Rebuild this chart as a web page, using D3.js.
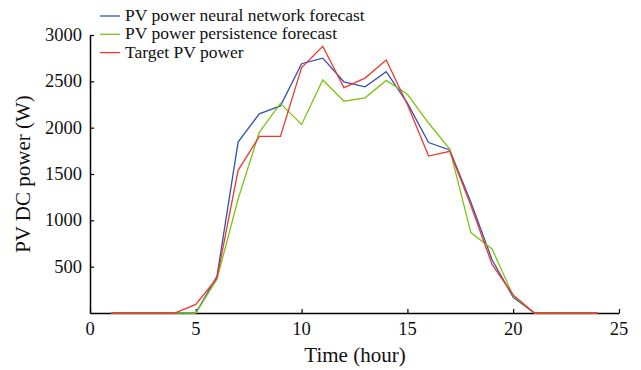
<!DOCTYPE html>
<html>
<head>
<meta charset="utf-8">
<style>
  body { margin: 0; background: #fff; }
  text { font-family: "Liberation Serif", "Times New Roman", serif; fill: #111; }
</style>
</head>
<body>
<svg id="chart" width="641" height="370"></svg>
<script src="https://cdn.jsdelivr.net/npm/d3@7/dist/d3.min.js"></script>
<script>
// hours of the day
const hours = [1, 2, 3, 4, 5, 6, 7, 8, 9, 10, 11, 12, 13, 14, 15, 16, 17, 18, 19, 20, 21, 22, 23, 24];

const neuralForecast = [0, 0, 0, 0, 0, 395, 1845, 2150, 2235, 2690, 2750, 2495, 2440, 2605, 2265, 1840, 1760, 1195, 575, 170, 0, 0, 0, 0];
const persistenceForecast = [0, 0, 0, 0, 0, 365, 1230, 1950, 2262, 2035, 2515, 2285, 2322, 2510, 2360, 2050, 1770, 868, 692, 185, 0, 0, 0, 0];
const targetPower = [0, 0, 0, 0, 92, 375, 1540, 1905, 1905, 2648, 2878, 2432, 2535, 2730, 2250, 1693, 1745, 1160, 525, 195, 0, 0, 0, 0];

const xTicks = [0, 5, 10, 15, 20, 25];
const yTicks = [500, 1000, 1500, 2000, 2500, 3000];

const series = [
  { name: "PV power neural network forecast", values: neuralForecast, color: "#3451b2" },
  { name: "PV power persistence forecast", values: persistenceForecast, color: "#7cc414" },
  { name: "Target PV power", values: targetPower, color: "#ea3a2e" }
];

const svg = d3.select("#chart");
const plotLeft = 90, plotRight = 619, plotTop = 35, plotBottom = 313;

const x = d3.scaleLinear().domain([0, 25]).range([plotLeft, plotRight]);
const y = d3.scaleLinear().domain([0, 3000]).range([plotBottom, plotTop]);

// axes, ticks pointing inward; labels drawn separately in serif
function styleAxis(g) {
  g.select(".domain").attr("stroke", "#000").attr("stroke-width", 1.5);
  g.selectAll(".tick line").attr("stroke", "#000").attr("stroke-width", 1.2);
  g.selectAll(".tick text").remove();
}

svg.append("g")
  .attr("transform", `translate(0,${plotBottom})`)
  .call(d3.axisBottom(x).tickValues(xTicks).tickSizeInner(-4).tickSizeOuter(0))
  .call(styleAxis);

svg.append("g")
  .attr("transform", `translate(${plotLeft},0)`)
  .call(d3.axisLeft(y).tickValues(yTicks).tickSizeInner(-4).tickSizeOuter(0))
  .call(styleAxis);

svg.append("g").selectAll("text")
  .data(xTicks)
  .join("text")
  .attr("x", d => x(d))
  .attr("y", plotBottom + 22)
  .attr("text-anchor", "middle")
  .style("font-size", "18.5px")
  .text(d => d);

svg.append("g").selectAll("text")
  .data(yTicks)
  .join("text")
  .attr("x", plotLeft - 8)
  .attr("y", d => y(d) + 6)
  .attr("text-anchor", "end")
  .style("font-size", "18.5px")
  .text(d => d);

// lines
const line = d3.line()
  .x((d, i) => x(hours[i]))
  .y(d => y(d));

series.forEach(s => {
  svg.append("path")
    .datum(s.values)
    .attr("fill", "none")
    .attr("stroke", s.color)
    .attr("stroke-width", 1.3)
    .attr("d", line);
});

// axis titles
svg.append("text")
  .attr("x", 355)
  .attr("y", 362)
  .attr("text-anchor", "middle")
  .style("font-size", "21px")
  .text("Time (hour)");

svg.append("text")
  .attr("transform", "translate(30,174) rotate(-90)")
  .attr("text-anchor", "middle")
  .style("font-size", "21px")
  .text("PV DC power (W)");

// legend
const legend = svg.append("g");
series.forEach((s, i) => {
  const ly = 16 + i * 18.3;
  legend.append("line")
    .attr("x1", 100).attr("x2", 120)
    .attr("y1", ly).attr("y2", ly)
    .attr("stroke", s.color)
    .attr("stroke-width", 1.3);
  legend.append("text")
    .attr("x", 125)
    .attr("y", ly + 5)
    .style("font-size", "17.5px")
    .text(s.name);
});
</script>
</body>
</html>
